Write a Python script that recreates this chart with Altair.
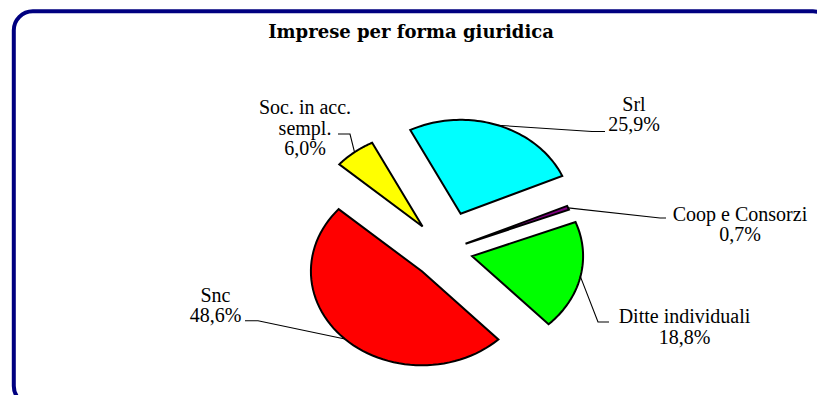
import altair as alt
import pandas as pd

# ---- data ----
categories = ["Srl", "Coop e Consorzi", "Ditte individuali", "Snc", "Soc. in acc. sempl."]
shares = [25.9, 0.7, 18.8, 48.6, 6.0]
label_text = ["Srl", "Coop e Consorzi", "Ditte individuali", "Snc", "Soc. in acc.\nsempl."]
title_text = "Imprese per forma giuridica"

# ---- styles / layout ----
colors = ["#00FFFF", "#800080", "#00FF00", "#FF0000", "#FFFF00"]
explode = [0.42, 0.2, 0.25, 0.3, 0.33]          # explosion, in radii
label_x = [626, 732, 676.5, 207.5, 297]          # label centre (px)
label_y = [102.7, 212.7, 315.3, 293.7, 106]      # first-line baseline (px)
elbow_x = [584, 652, 590, 250, 342]
elbow_y = [123.5, 210, 314, 312.7, 126]
end_x = [597, 658, 601, 237, 330]
end_y = [123.5, 210, 314, 312.7, 126]

W, H = 809, 387
CX, CY = 437, 243          # pie centre (px)
RX, RY = 111, 94           # pie radii (px), tilted pie
START = -27                # start angle, degrees clockwise from 12 o'clock
N = 60
FONT = "DejaVu Serif"
LABEL_FONT = "Liberation Serif"

df = pd.DataFrame({
    "idx": list(range(len(categories))),
    "cat": categories,
    "share": shares,
    "lab": label_text,
    "explode": explode,
    "lx": label_x, "ly": label_y,
    "bx": elbow_x, "by": elbow_y,
    "ex": end_x, "ey": end_y,
})

xs = alt.Scale(domain=[-1, 1], range=[CX - RX, CX + RX], nice=False, zero=False)
ys = alt.Scale(domain=[-1, 1], range=[CY + RY, CY - RY], nice=False, zero=False)
cs = alt.Scale(domain=categories, range=colors)

base = alt.Chart(df).transform_window(
    cum="sum(share)", frame=[None, 0], sort=[alt.SortField("idx")]
).transform_joinaggregate(
    total="sum(share)"
).transform_calculate(
    a1=f"{START}*PI/180 + 2*PI*datum.cum/datum.total",
    a0=f"{START}*PI/180 + 2*PI*(datum.cum - datum.share)/datum.total",
).transform_calculate(
    mid="(datum.a0 + datum.a1)/2",
).transform_calculate(
    ox="datum.explode*sin(datum.mid)",
    oy="datum.explode*cos(datum.mid)",
)

slices = base.transform_calculate(
    pts=f"sequence(0, {N + 2})"
).transform_flatten(["pts"]).transform_calculate(
    ang=f"datum.a0 + (datum.a1 - datum.a0)*(datum.pts - 1)/{N}",
).transform_calculate(
    ux="datum.pts == 0 ? datum.ox : datum.ox + sin(datum.ang)",
    uy="datum.pts == 0 ? datum.oy : datum.oy + cos(datum.ang)",
).mark_line(
    filled=True, interpolate="linear-closed", stroke="black", strokeWidth=2, strokeJoin="miter"
).encode(
    x=alt.X("ux:Q", scale=xs, axis=None),
    y=alt.Y("uy:Q", scale=ys, axis=None),
    color=alt.Color("cat:N", scale=cs, legend=None),
    order=alt.Order("pts:Q"),
)

leaders = base.transform_calculate(
    k="sequence(0, 3)"
).transform_flatten(["k"]).transform_calculate(
    px="datum.k == 1 ? datum.bx : datum.ex",
    py="datum.k == 1 ? datum.by : datum.ey",
).transform_calculate(
    ux=f"datum.k == 0 ? datum.ox + sin(datum.mid) : (datum.px - {CX})/{RX}",
    uy=f"datum.k == 0 ? datum.oy + cos(datum.mid) : ({CY} - datum.py)/{RY}",
).mark_line(color="black", strokeWidth=1.1).encode(
    x=alt.X("ux:Q", scale=xs, axis=None),
    y=alt.Y("uy:Q", scale=ys, axis=None),
    detail="cat:N",
    order=alt.Order("k:Q"),
)

labels = base.transform_calculate(
    txt="datum.lab + '\\n' + replace(format(100*datum.share/datum.total, '.1f'), '.', ',') + '%'",
    ux=f"(datum.lx - {CX})/{RX}",
    uy=f"({CY} - datum.ly)/{RY}",
).mark_text(
    font=LABEL_FONT, fontSize=20, lineBreak="\n", lineHeight=20.5, align="center", baseline="alphabetic",
    color="black",
).encode(
    x=alt.X("ux:Q", scale=xs, axis=None),
    y=alt.Y("uy:Q", scale=ys, axis=None),
    text="txt:N",
)

title = alt.Chart(pd.DataFrame({"t": [title_text]})).mark_text(
    font=FONT, fontSize=18, fontWeight="bold", align="center", baseline="alphabetic", color="black"
).encode(x=alt.value(403), y=alt.value(29.7), text="t:N")

frame = alt.Chart(pd.DataFrame({"t": [0]})).mark_rect(
    fillOpacity=0, stroke="#000080", strokeWidth=4, cornerRadius=19
).encode(x=alt.value(5.8), x2=alt.value(824), y=alt.value(3.3), y2=alt.value(397))

chart = alt.layer(frame, slices, leaders, labels, title).properties(
    width=W, height=H, autosize=alt.AutoSizeParams(type="none"), padding=0
).configure_view(stroke=None)

chart.save("out.html", embed_options={"renderer": "svg", "actions": False})
